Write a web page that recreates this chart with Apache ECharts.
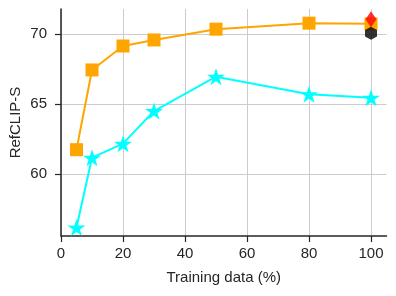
<!DOCTYPE html>
<html>
<head>
<meta charset="utf-8">
<script src="https://cdn.jsdelivr.net/npm/echarts@6/dist/echarts.min.js"></script>
<style>
html,body{margin:0;padding:0;background:#fff;}
#chart{width:396px;height:296px;}
</style>
</head>
<body>
<div id="chart"></div>
<script>
const xValues = [5, 10, 20, 30, 50, 80, 100];
const orangeValues = [61.76, 67.45, 69.16, 69.59, 70.36, 70.79, 70.74];
const cyanValues = [56.21, 61.19, 62.19, 64.52, 66.97, 65.71, 65.47];
const redPoint = [[100, 71.07]];
const blackPoint = [[100, 70.07]];
const xTicks = [0, 20, 40, 60, 80, 100];
const yTicks = [60, 65, 70];

const STAR = 'path://M50,0 L61.23,34.55 L97.55,34.55 L68.17,55.9 L79.39,90.45 L50,69.1 L20.61,90.45 L31.83,55.9 L2.45,34.55 L38.77,34.55 Z';
const HEX = 'path://M50,0 L93.3,25 L93.3,75 L50,100 L6.7,75 L6.7,25 Z';
const TXT = '#262626';
const FONT = '"Liberation Sans", Arial, sans-serif';

const chart = echarts.init(document.getElementById('chart'), null, {renderer: 'canvas'});
chart.setOption({
  backgroundColor: '#ffffff',
  animation: false,
  textStyle: {fontFamily: FONT},
  grid: {left: 61, right: 9.5, top: 9, bottom: 60, containLabel: false, outerBoundsMode: 'none'},
  xAxis: {
    type: 'value', min: 0, max: 105,
    name: 'Training data (%)', nameLocation: 'middle', nameGap: 34, nameMoveOverlap: false,
    nameTextStyle: {fontSize: 15, color: TXT, fontFamily: FONT},
    axisLine: {show: true, onZero: false, lineStyle: {color: TXT, width: 1.5}},
    axisTick: {show: true, length: 6, customValues: xTicks, lineStyle: {color: TXT, width: 1.2}},
    axisLabel: {customValues: xTicks, fontSize: 15, color: TXT, margin: 10, fontFamily: FONT},
    splitLine: {show: true, lineStyle: {color: '#cccccc', width: 1}}
  },
  yAxis: {
    type: 'value', min: 55.6, max: 71.8,
    name: 'RefCLIP-S', nameLocation: 'middle', nameGap: 38, nameRotate: 90, nameMoveOverlap: false,
    nameTextStyle: {fontSize: 15, color: TXT, fontFamily: FONT},
    axisLine: {show: true, onZero: false, lineStyle: {color: TXT, width: 1.5}},
    axisTick: {show: true, length: 6, customValues: yTicks, lineStyle: {color: TXT, width: 1.2}},
    axisLabel: {customValues: yTicks, fontSize: 15, color: TXT, margin: 14, fontFamily: FONT},
    splitLine: {show: true, lineStyle: {color: '#cccccc', width: 1}}
  },
  series: [
    {
      type: 'line', z: 2,
      data: xValues.map((x, i) => [x, orangeValues[i]]),
      symbol: 'rect', symbolSize: 13,
      lineStyle: {color: '#FFA500', width: 2},
      itemStyle: {color: '#FFA500'}
    },
    {
      type: 'line', z: 2,
      data: xValues.map((x, i) => [x, cyanValues[i]]),
      symbol: STAR, symbolSize: [18, 17],
      lineStyle: {color: '#00FFFF', width: 2},
      itemStyle: {color: '#00FFFF'}
    },
    {
      type: 'scatter', z: 5,
      data: redPoint,
      symbol: 'diamond', symbolSize: [11, 16],
      itemStyle: {color: '#FF0000'}
    },
    {
      type: 'scatter', z: 6,
      data: blackPoint,
      symbol: HEX, symbolSize: [12, 13],
      itemStyle: {color: '#000000'}
    }
  ]
});
</script>
</body>
</html>
